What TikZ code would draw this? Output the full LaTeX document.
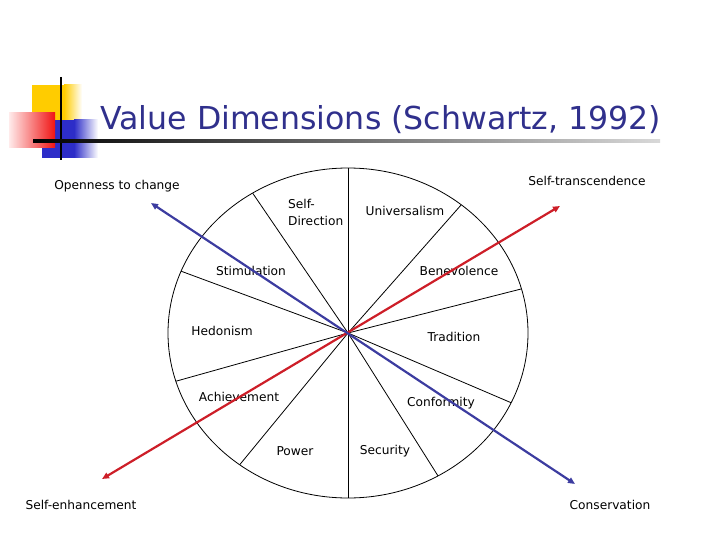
\documentclass[tikz,border=0pt]{standalone}
\usepackage{fontspec}
\setmainfont{DejaVu Sans}
\usetikzlibrary{arrows.meta,calc}
\definecolor{titleblue}{RGB}{48,48,140}
\definecolor{axisblue}{RGB}{60,60,160}
\definecolor{axisred}{RGB}{205,30,40}
\definecolor{logoyellow}{RGB}{255,204,0}
\definecolor{logoblue}{RGB}{45,45,200}
\definecolor{logored}{RGB}{240,20,20}
\begin{document}
\begin{tikzpicture}[x=1pt,y=-1pt,
  lbl/.style={font=\fontsize{12.2}{17}\selectfont, inner sep=0pt, text=black},
  spoke/.style={draw=black, line width=0.8pt},
  axis/.style={line width=2.2pt, {Triangle[length=7pt,width=6pt]}-{Triangle[length=7pt,width=6pt]}}]
\useasboundingbox (0,0) rectangle (720,540);
% logo
\fill[logoyellow] (32,85) rectangle (64,120);
\shade[left color=logoyellow, right color=white] (64,85) rectangle (82,120);
\fill[logoblue] (42,120) rectangle (74,158);
\shade[left color=logoblue, right color=white] (74,120) rectangle (98,158);
\shade[left color=red!8, right color=logored] (9,113) rectangle (55,148);
\draw[line width=2pt] (61,77) -- (61,160);
\shade[left color=black, right color=black!15] (33,140) rectangle (660,142.2);
% title
\node[anchor=base west, text=titleblue, font=\fontsize{31.6}{36}\selectfont, inner sep=0pt] (title) at (100,130) {Value Dimensions (Schwartz, 1992)};
% circle
\coordinate (c) at (348,333);
\draw[line width=0.8pt] (c) ellipse [x radius=180pt, y radius=165pt];
\foreach \a/\n in {90/s1,122/s2,158/s3,197/s4,233/s5,270/s6,300/s7,335/s8,15.5/s9,51/s10}{
  \coordinate (\n) at ($(c)+(\a:180pt and 165pt)$);
  \draw[spoke] (c) -- (\n);
}
% labels
\node[lbl] (open) at (117,186) {Openness to change};
\node[lbl] (trans) at (587,181) {Self-transcendence};
\node[lbl] (enh) at (81,505) {Self-enhancement};
\node[lbl] (cons) at (610,505) {Conservation};
\node[lbl, anchor=west, align=left] (sd) at (288,212) {Self-\\Direction};
\node[lbl] (uni) at (405,211) {Universalism};
\node[lbl] (sti) at (251,271) {Stimulation};
\node[lbl] (ben) at (459,271) {Benevolence};
\node[lbl] (hed) at (222,331) {Hedonism};
\node[lbl] (tra) at (454,337) {Tradition};
\node[lbl] (ach) at (239,397) {Achievement};
\node[lbl] (con) at (441,403) {Conformity};
\node[lbl] (pow) at (295,451) {Power};
\node[lbl] (sec) at (385,451) {Security};
% axes
\coordinate (redA) at (102,479);
\coordinate (redB) at (560,206);
\coordinate (blueA) at (151,203);
\coordinate (blueB) at (575,484);
\draw[axis, axisred] (redA) -- (redB);
\draw[axis, axisblue] (blueA) -- (blueB);
\end{tikzpicture}
\end{document}
